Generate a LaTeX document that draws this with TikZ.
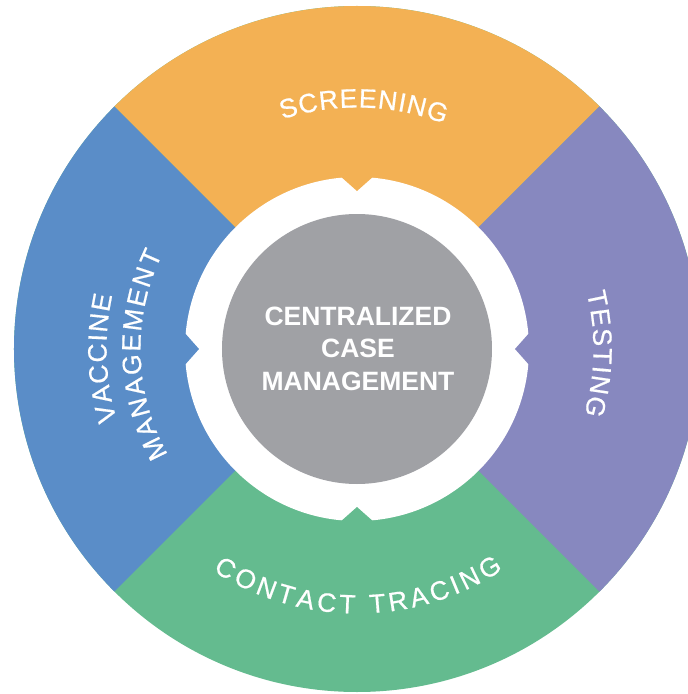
\documentclass[tikz,border=0pt]{standalone}
\usepackage{fontspec}
\setmainfont{Liberation Sans}
\newfontfamily\ringfam{Liberation Sans}[FakeBold=0.6]
\usetikzlibrary{decorations.text}
\definecolor{segorange}{HTML}{F3B154}
\definecolor{segblue}{HTML}{5A8DC8}
\definecolor{segpurple}{HTML}{8788BF}
\definecolor{seggreen}{HTML}{64BB8F}
\definecolor{hubgray}{HTML}{A0A1A5}
\newcommand\ringfont{\ringfam\fontsize{26.5}{26.5}\selectfont}
\begin{document}
\begin{tikzpicture}[x=1pt,y=1pt,
  ringlabel/.style={decorate, decoration={text along path, text color=white, text align={fit to path}, text={#1}}},
  hubtext/.style={text=white, font=\fontsize{26.5}{26.5}\selectfont\bfseries, anchor=base, inner sep=0pt}]
\clip (-357,-345) rectangle (331,349);
\fill[white] (-357,-345) rectangle (331,349);
% ring segments
\fill[seggreen] (0,0) circle[radius=343pt];
\fill[segorange] (0,0) -- (45:343pt) arc[start angle=45,end angle=135,radius=343pt] -- cycle;
\fill[segblue] (0,0) -- (135:343pt) arc[start angle=135,end angle=225,radius=343pt] -- cycle;
\fill[segpurple] (0,0) -- (-45:343pt) arc[start angle=-45,end angle=45,radius=343pt] -- cycle;
% white ring with notches
\fill[white] (0,0) circle[radius=172pt];
\foreach \a/\c in {90/segorange,180/segblue,270/seggreen,0/segpurple}
  \fill[\c,rotate=\a] (158,0) -- (175.5,19.7) -- (175.5,-19.7) -- cycle;
% hub
\fill[hubgray] (0,0) circle[radius=135pt];
\node[hubtext] (c1) at (1,24) {CENTRALIZED};
\node[hubtext] (c2) at (1,-8) {CASE};
\node[hubtext] (c3) at (1,-41) {MANAGEMENT};
% ring labels
\path[ringlabel={|\ringfont|SCREENING}] (108:241.5pt) arc[start angle=108,end angle=68.8,radius=241.5pt];
\path[ringlabel={|\ringfont|TESTING}] (13.8:236.5pt) arc[start angle=13.8,end angle=-16.1,radius=236.5pt];
\path[ringlabel={|\ringfont|CONTACT TRACING}] (237:264.5pt) arc[start angle=237,end angle=303.5,radius=264.5pt];
\path[ringlabel={|\ringfont|VACCINE}] (196.5:250.5pt) arc[start angle=196.5,end angle=167.6,radius=250.5pt];
\path[ringlabel={|\ringfont|MANAGEMENT}] (209.2:216.5pt) arc[start angle=209.2,end angle=154,radius=216.5pt];
\end{tikzpicture}
\end{document}
